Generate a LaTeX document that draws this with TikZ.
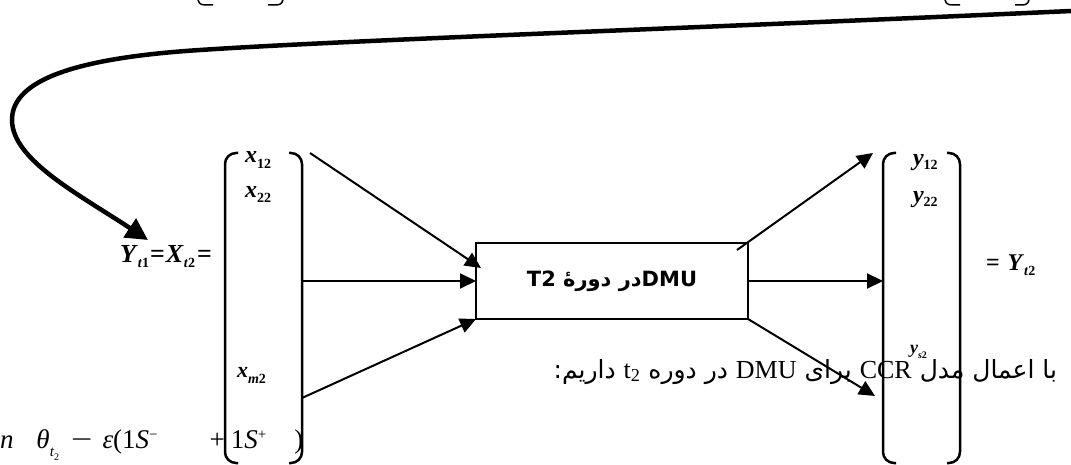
\documentclass[tikz,border=0pt]{standalone}
\usepackage{fontspec}
\setmainfont{Liberation Serif}
\newfontfamily\arabicfont[Script=Arabic]{DejaVu Sans}
\newfontfamily\boxfont[Script=Arabic]{DejaVu Sans}
\TeXXeTstate=1
\usetikzlibrary{arrows.meta}
\newcommand\lsubx[2]{\raisebox{-#1}{\fontsize{14}{15}\selectfont #2}}
\newcommand\latx[1]{\beginL{\rmfamily\fontsize{26}{30}\selectfont #1}\endL}
\begin{document}
\begin{tikzpicture}[x=1pt,y=-1pt,
  arr/.style={line width=2pt,-{Triangle[length=16pt,width=15pt]}},
  bigarr/.style={line width=4.5pt,-{Triangle[length=22pt,width=22pt]}},
  brk/.style={line width=2.5pt,rounded corners=11pt},
  lbl/.style={inner sep=0pt,outer sep=0pt},
  vecbox/.style={draw=none,inner sep=0pt,outer sep=0pt,minimum width=77pt,minimum height=310pt},
  paren/.style={line width=1.5pt}]
\useasboundingbox (0,0) rectangle (1071,465);

% top paren fragments
\draw[paren] (198,0) .. controls (200,5) .. (213,5);
\draw[paren] (268,5) .. controls (281,5) .. (283,0);
\draw[paren] (945,0) .. controls (947,5) .. (960,5);
\draw[paren] (1015,5) .. controls (1027,5) .. (1029,0);

% vectors
\node[vecbox] (xvec) at (263.5,308) {};
\node[vecbox] (yvec) at (921.5,308) {};
\draw[brk] ([xshift=13pt]xvec.north west) -- (xvec.north west) -- (xvec.south west) -- ([xshift=13pt]xvec.south west);
\draw[brk] ([xshift=-13pt]xvec.north east) -- (xvec.north east) -- (xvec.south east) -- ([xshift=-13pt]xvec.south east);
\draw[brk] ([xshift=13pt]yvec.north west) -- (yvec.north west) -- (yvec.south west) -- ([xshift=13pt]yvec.south west);
\draw[brk] ([xshift=-13pt]yvec.north east) -- (yvec.north east) -- (yvec.south east) -- ([xshift=-13pt]yvec.south east);

% DMU box
\node[draw,line width=2.5pt,minimum width=272pt,minimum height=76pt,inner sep=0pt,outer sep=0pt] (dmu) at (612,281)
  {\boxfont\bfseries\fontsize{21}{24}\selectfont\beginR\beginL DMU\endL در دورهٔ \beginL T2\endL\endR};

% entries
\node[lbl,anchor=base west] (x12) at (245,163) {\fontsize{24}{26}\selectfont\bfseries\textit{x}\lsubx{6pt}{12}};
\node[lbl,anchor=base west] (x22) at (245,198) {\fontsize{24}{26}\selectfont\bfseries\textit{x}\lsubx{5pt}{22}};
\node[lbl,anchor=base west] (xm2) at (237,377) {\fontsize{22}{24}\selectfont\bfseries\textit{x}\lsubx{6pt}{\textit{m}2}};
\node[lbl,anchor=base west] (y12) at (913,166) {\fontsize{24}{26}\selectfont\bfseries\textit{y}\lsubx{4pt}{12}};
\node[lbl,anchor=base west] (y22) at (913,203) {\fontsize{24}{26}\selectfont\bfseries\textit{y}\lsubx{4pt}{22}};
\node[lbl,anchor=base west] (ys2) at (910,353) {\fontsize{18}{20}\selectfont\bfseries\textit{y}\raisebox{-5pt}{\fontsize{10}{11}\selectfont\textit{s}2}};

% left and right labels
\node[lbl,anchor=base west] (lhs) at (120,262) {\fontsize{26}{30}\selectfont\bfseries\textit{Y}\lsubx{5pt}{\textit{t}1}\hspace{1pt}=\hspace{1pt}\textit{X}\lsubx{5pt}{\textit{t}2}\hspace{2pt}=};
\node[lbl,anchor=base west] (rhs) at (986,270) {\fontsize{24}{28}\selectfont\bfseries =\hspace{8pt}\textit{Y}\lsubx{5pt}{\textit{t}2}};

% formula
\node[lbl,anchor=base west] (frm) at (0,448) {\fontsize{27}{30}\selectfont
  \textit{n}\hspace{23pt}\textit{θ}\raisebox{-8pt}{\fontsize{15}{16}\selectfont\textit{t}\raisebox{-4pt}{\fontsize{10}{11}\selectfont 2}}\hspace{12pt}\scalebox{1.4}[1]{−}\hspace{10pt}\textit{ε}(1\textit{S}\raisebox{9pt}{\fontsize{15}{16}\selectfont −}\hspace{52pt}+\hspace{6pt}1\textit{S}\raisebox{9pt}{\fontsize{15}{16}\selectfont +}\hspace{28pt})};

% persian line
\node[lbl,anchor=base east] (fa) at (1057,378) {\arabicfont\fontsize{25}{30}\selectfont\beginR با اعمال مدل \latx{CCR} برای \latx{DMU} در دوره \latx{t\textsubscript{2}} داریم:\endR};

% connectors
\coordinate (i1) at (310,153);
\coordinate (i1t) at (481,268);
\coordinate (i3) at (302,398);
\coordinate (o1) at (737,250);
\coordinate (o1t) at (873,153);
\coordinate (o3t) at (875,396);
\draw[arr] (i1) -- (i1t);
\draw[arr] (xvec.east |- dmu.west) -- (dmu.west);
\draw[arr] (i3) -- (dmu.south west);
\draw[arr] (o1) -- (o1t);
\draw[arr] (dmu.east) -- (yvec.west |- dmu.east);
\draw[arr] (dmu.south east) -- (o3t);

% big curved arrow
\coordinate (cs) at (1071,11);
\coordinate (ct) at (148,240);
\draw[bigarr] (cs) .. controls (700,28) and (350,40) .. (200,50)
  .. controls (60,59) and (12,85) .. (12,120)
  .. controls (12,160) and (80,195) .. (ct);
\end{tikzpicture}
\end{document}
